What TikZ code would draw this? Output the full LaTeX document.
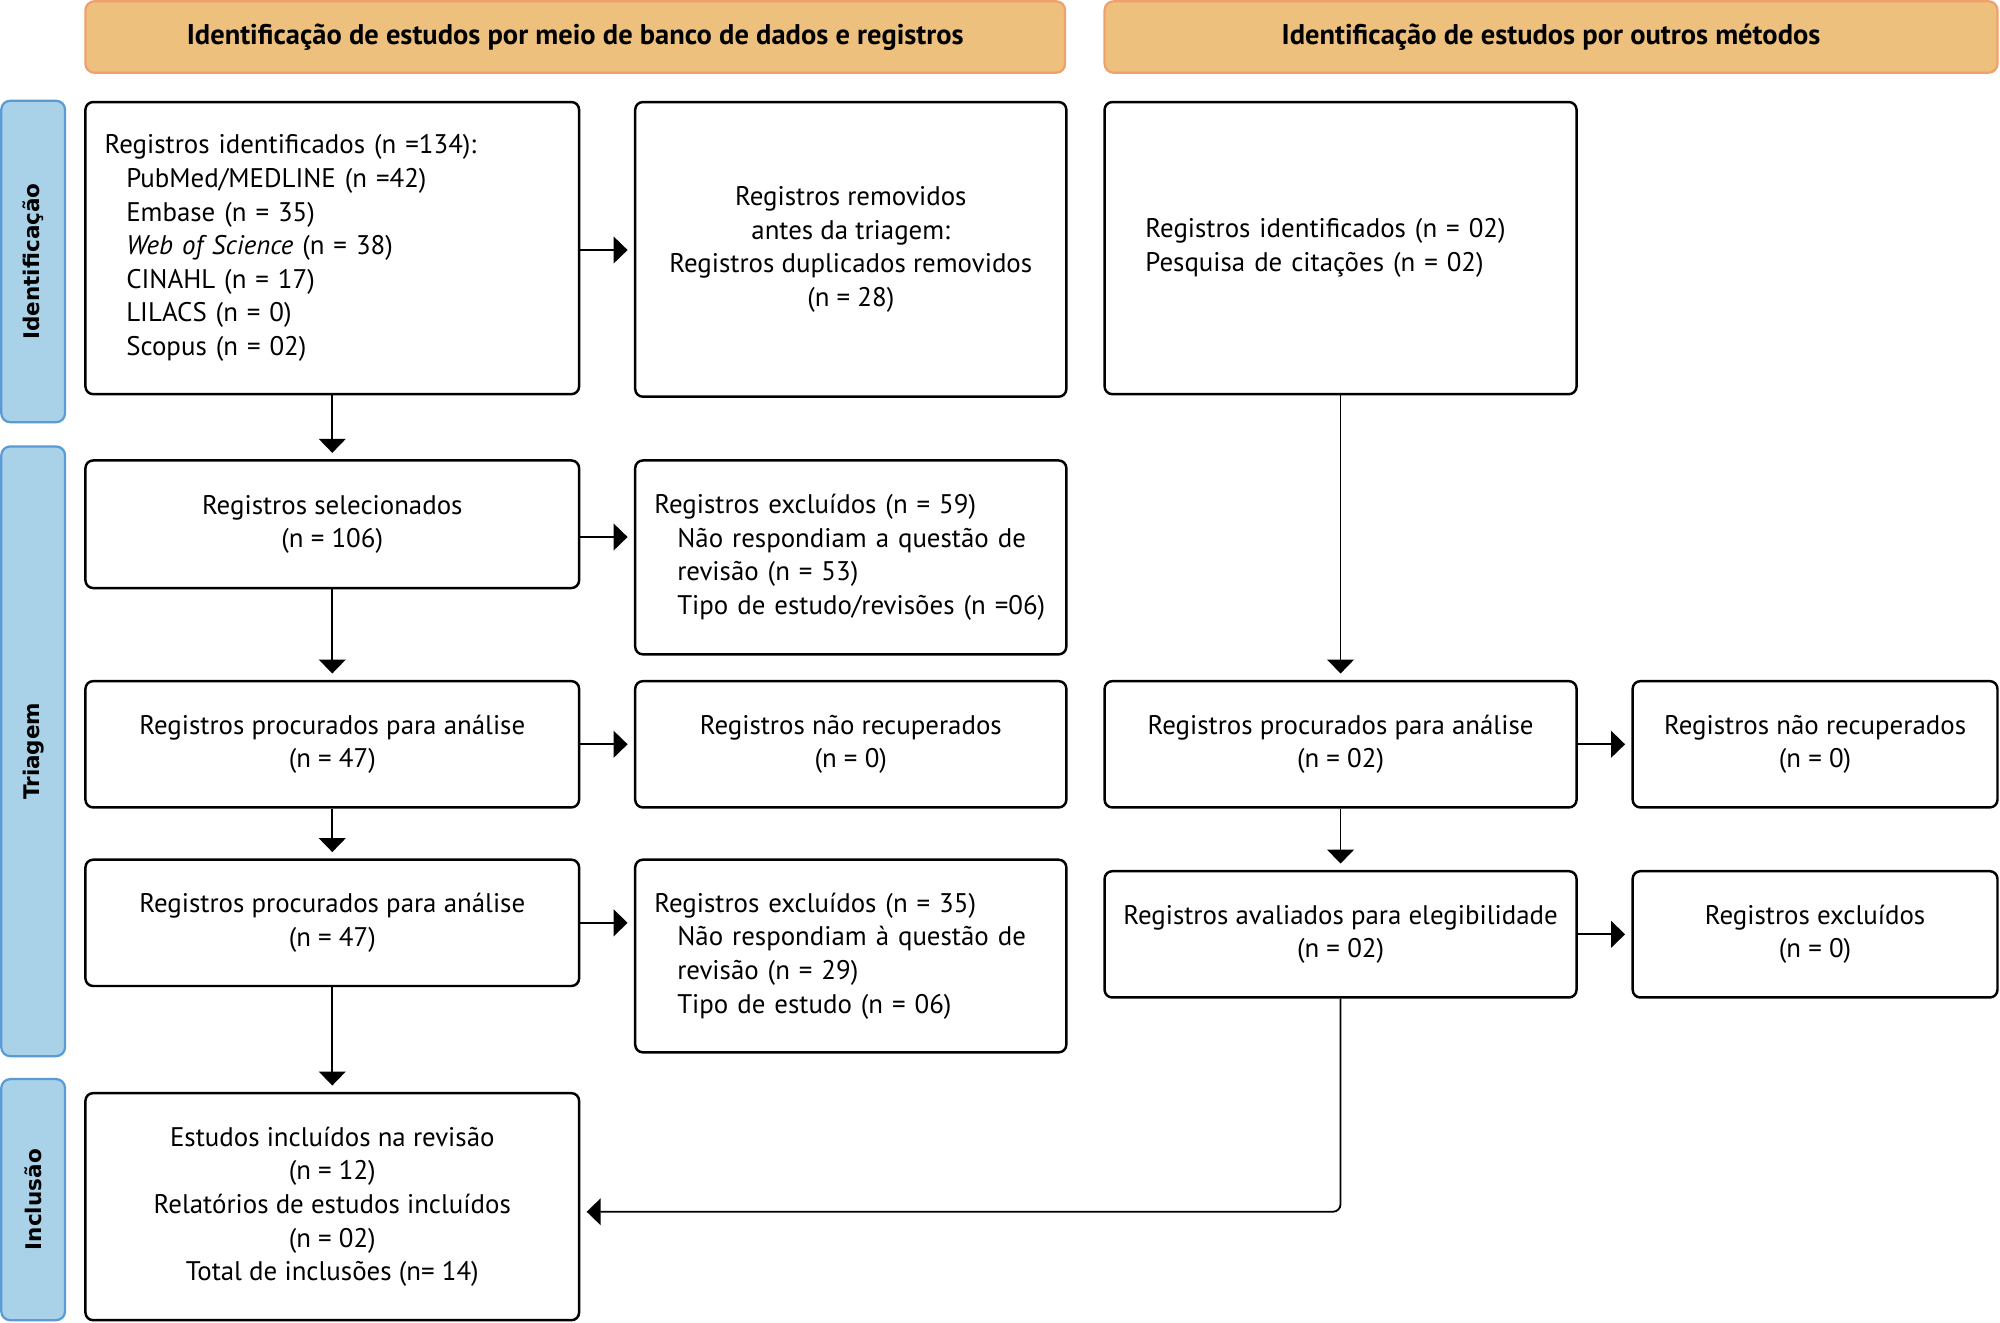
\documentclass[tikz,border=0pt]{standalone}
\usepackage{fontspec}
\setmainfont{PT Sans}
\newfontfamily\sidefont{DejaVu Sans}
\usetikzlibrary{arrows.meta,positioning}
\definecolor{hdrfill}{HTML}{EDC07E}
\definecolor{hdrline}{HTML}{F0A06C}
\definecolor{sidefill}{HTML}{A9D1E7}
\definecolor{sideline}{HTML}{5B9BD5}
\tikzset{
	box/.style={draw=black,line width=1.1pt,rounded corners=0.12cm,fill=white,
		align=center,inner sep=0pt,font=\fontsize{12}{15}\selectfont},
	lbox/.style={box,align=left,inner xsep=0.3cm},
	hdr/.style={draw=hdrline,fill=hdrfill,line width=1pt,rounded corners=0.14cm,
		minimum height=1.12cm,inner sep=0pt,font=\fontsize{12.7}{15}\selectfont\bfseries},
	side/.style={draw=sideline,fill=sidefill,line width=1pt,rounded corners=0.14cm,
		rotate=90,minimum height=1.0cm,inner sep=0pt,font=\sidefont\fontsize{9.6}{12}\selectfont\bfseries},
	arr/.style={-{Triangle[length=0.22cm,width=0.42cm]},line width=0.8pt,shorten >=0.1cm},
}
\begin{document}
\begin{tikzpicture}
\useasboundingbox (0,0) rectangle (31.36,-20.74);
%%% Column headers
\node[hdr,minimum width=15.36cm] (hdrA) at (9.02,-0.58) {Identificação de estudos por meio de banco de dados e registros};
\node[hdr,minimum width=14.00cm] (hdrB) at (24.32,-0.58) {Identificação de estudos por outros métodos};
%%% Phase labels
\node[side,minimum width=5.04cm] (sideI) at (0.52,-4.10) {Identificação};
\node[side,minimum width=9.56cm] (sideT) at (0.52,-11.78) {Triagem};
\node[side,minimum width=3.78cm] (sideN) at (0.52,-18.81) {Inclusão};
%%% Databases and registers
\node[lbox,text width=7.14cm,minimum height=4.58cm] (ident) at (5.21,-3.89) {Registros identificados (n =134):\\
	\hspace*{0.34cm}PubMed/MEDLINE (n =42)\\
	\hspace*{0.34cm}Embase (n = 35)\\
	\hspace*{0.34cm}\textit{Web of Science} (n = 38)\\
	\hspace*{0.34cm}CINAHL (n = 17)\\
	\hspace*{0.34cm}LILACS (n = 0)\\
	\hspace*{0.34cm}Scopus (n = 02)};
\node[box,minimum width=6.76cm,minimum height=4.62cm] (removed) at (13.34,-3.91) {Registros removidos\\antes da triagem:\\Registros duplicados removidos\\(n = 28)};
\node[box,minimum width=7.74cm,minimum height=2.00cm] (screened) at (5.21,-8.22) {Registros selecionados\\(n = 106)};
\node[lbox,text width=6.16cm,minimum height=3.04cm] (excl1) at (13.34,-8.74) {Registros excluídos (n = 59)\\
	\hspace*{0.36cm}Não respondiam a questão de\\
	\hspace*{0.36cm}revisão (n = 53)\\
	\hspace*{0.36cm}Tipo de estudo/revisões (n =06)};
\node[box,minimum width=7.74cm,minimum height=1.98cm] (sought1) at (5.21,-11.67) {Registros procurados para análise\\(n = 47)};
\node[box,minimum width=6.76cm,minimum height=1.98cm] (notret1) at (13.34,-11.67) {Registros não recuperados\\(n = 0)};
\node[box,minimum width=7.74cm,minimum height=1.98cm] (sought2) at (5.21,-14.47) {Registros procurados para análise\\(n = 47)};
\node[lbox,text width=6.16cm,minimum height=3.02cm] (excl2) at (13.34,-14.99) {Registros excluídos (n = 35)\\
	\hspace*{0.36cm}Não respondiam à questão de\\
	\hspace*{0.36cm}revisão (n = 29)\\
	\hspace*{0.36cm}Tipo de estudo (n = 06)};
\node[box,minimum width=7.74cm,minimum height=3.56cm] (incl) at (5.21,-18.92) {Estudos incluídos na revisão\\(n = 12)\\Relatórios de estudos incluídos\\(n = 02)\\Total de inclusões (n= 14)};
%%% Other methods
\node[box,align=left,inner xsep=0.64cm,text width=6.12cm,minimum height=4.58cm] (other) at (21.02,-3.89) {Registros identificados (n = 02)\\Pesquisa de citações (n = 02)};
\node[box,minimum width=7.40cm,minimum height=1.98cm] (sought3) at (21.02,-11.67) {Registros procurados para análise\\(n = 02)};
\node[box,minimum width=5.72cm,minimum height=1.98cm] (notret2) at (28.46,-11.67) {Registros não recuperados\\(n = 0)};
\node[box,minimum width=7.40cm,minimum height=1.98cm] (elig) at (21.02,-14.65) {Registros avaliados para elegibilidade\\(n = 02)};
\node[box,minimum width=5.72cm,minimum height=1.98cm] (excl3) at (28.46,-14.65) {Registros excluídos\\(n = 0)};
%%% Connectors
\draw[arr] ([yshift=-0.03cm]ident.east) -- ([yshift=-0.03cm]ident.east -| removed.west);
\draw[arr] (ident) -- (screened);
\draw[arr] ([yshift=-0.2cm]screened.east) -- ([yshift=-0.2cm]screened.east -| excl1.west);
\draw[arr] (screened) -- (sought1);
\draw[arr] (sought1.east) -- (notret1);
\draw[arr] (sought1) -- (sought2);
\draw[arr] (sought2.east) -- (sought2.east -| excl2.west);
\draw[arr] (sought2) -- (incl);
\draw[arr] (other) -- (sought3);
\draw[arr] (sought3.east) -- (notret2);
\draw[arr] (sought3) -- (elig);
\draw[arr] (elig.east) -- (excl3);
\draw[arr,rounded corners=0.12cm] (elig.south) |- ([yshift=-0.08cm]incl.east);
\end{tikzpicture}
\end{document}
